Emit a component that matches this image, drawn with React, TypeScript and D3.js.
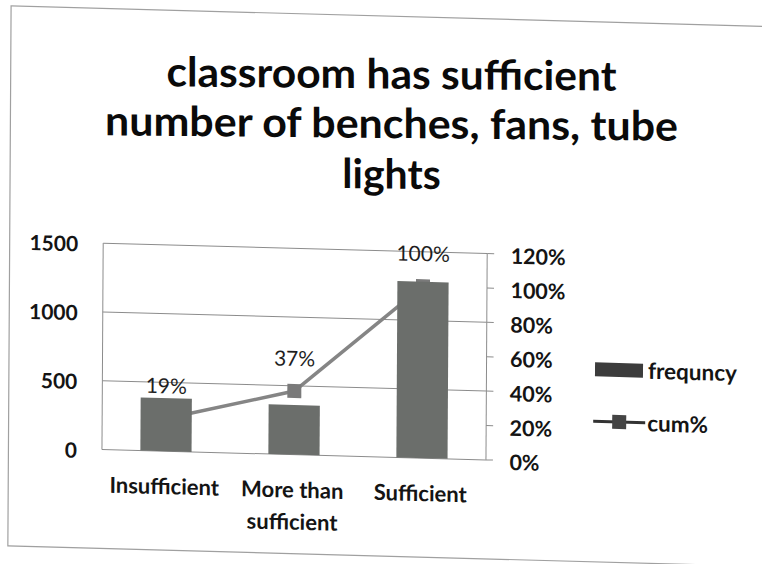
import React from "react";
import * as d3 from "d3";

const categories = ["Insufficient", "More than sufficient", "Sufficient"];
const frequency = [386, 361, 1283];
const cumPct = [0.19, 0.37, 1.0];
const leftTicks = [0, 500, 1000, 1500];
const rightTicks = [0, 0.2, 0.4, 0.6, 0.8, 1.0, 1.2];
const titleLines = ["classroom has sufficient", "number of benches, fans, tube", "lights"];
const seriesNames = ["frequncy", "cum%"];

const W = 762;
const H = 564;
const FONT = "Lato, 'Open Sans', sans-serif";

function wrap(label: string, maxChars: number): string[] {
  const words = label.split(" ");
  const lines: string[] = [];
  let cur = "";
  for (const w of words) {
    const next = cur ? cur + " " + w : w;
    if (next.length > maxChars && cur) {
      lines.push(cur);
      cur = w;
    } else cur = next;
  }
  if (cur) lines.push(cur);
  return lines;
}

export default function App() {
  const plot = { left: 103, right: 487, top: 250.7, bottom: 457 };
  const x = d3
    .scaleBand<string>()
    .domain(categories)
    .range([plot.left, plot.right])
    .paddingInner(0.6)
    .paddingOuter(0.3);
  const xc = (c: string) => (x(c) as number) + x.bandwidth() / 2;
  const yL = d3.scaleLinear().domain([0, 1500]).range([plot.bottom, plot.top]);
  const yR = d3.scaleLinear().domain([0, 1.2]).range([plot.bottom, plot.top]);
  const pctFmt = d3.format(".0%");

  const linePath = d3
    .line<number>()
    .x((_, i) => xc(categories[i]))
    .y((d) => yR(d))(cumPct) as string;

  const gridColor = "#8c8c8c";
  const textColor = "#141414";

  // perspective-like skew of the photographed page
  const m = 0.0272;
  const k = -0.006;
  const x0 = 381;
  const y0 = 282;
  const chartTf = `matrix(1, ${m}, ${k}, 1, ${-k * y0}, ${-m * x0})`;
  const mt = 0.0095;
  const titleTf = `matrix(1, ${mt}, 0, 1, 0, ${-mt * 391})`;

  const titleBaselines = [88.5, 138, 188.5];
  const titleWidths = [450, 573, 0];

  return (
    <svg
      width={W}
      height={H}
      viewBox={`0 0 ${W} ${H}`}
      style={{ position: "fixed", left: 0, top: 0, background: "#fff" }}
      fontFamily={FONT}
    >
      <rect x={0} y={0} width={W} height={H} fill="#ffffff" />
      <g transform={chartTf}>
        {/* frame */}
        <rect x={9.5} y={16} width={820} height={540} fill="none" stroke="#a0a0a0" strokeWidth={1.2} />

        {/* gridlines */}
        {leftTicks.map((t) => (
          <line
            key={"g" + t}
            x1={plot.left}
            x2={plot.right}
            y1={yL(t)}
            y2={yL(t)}
            stroke={gridColor}
            strokeWidth={1}
          />
        ))}
        {/* left axis line */}
        <line x1={plot.left} x2={plot.left} y1={plot.top} y2={plot.bottom} stroke={gridColor} strokeWidth={1} />

        {/* cum% line (drawn behind bars) */}
        <path d={linePath} fill="none" stroke="#858585" strokeWidth={3.5} />
        {cumPct.map((v, i) => (
          <rect
            key={"m" + i}
            x={xc(categories[i]) - 7}
            y={yR(v) - 7}
            width={14}
            height={14}
            fill="#7a7a7a"
          />
        ))}

        {/* bars */}
        {frequency.map((v, i) => (
          <rect
            key={"b" + i}
            x={x(categories[i]) as number}
            y={yL(v)}
            width={x.bandwidth()}
            height={plot.bottom - yL(v)}
            fill="#6b6e6b"
          />
        ))}

        {/* right axis */}
        <line x1={plot.right} x2={plot.right} y1={plot.top} y2={plot.bottom} stroke={gridColor} strokeWidth={1} />
        {rightTicks.map((t) => (
          <line
            key={"rt" + t}
            x1={plot.right}
            x2={plot.right + 7}
            y1={yR(t)}
            y2={yR(t)}
            stroke={gridColor}
            strokeWidth={1}
          />
        ))}

        {/* left tick labels */}
        {leftTicks.map((t) => (
          <text
            key={"lt" + t}
            x={78}
            y={yL(t) + 0.5}
            textAnchor="end"
            dominantBaseline="central"
            fontSize={21}
            fontWeight={700}
            fill={textColor}
          >
            {t}
          </text>
        ))}

        {/* right tick labels */}
        {rightTicks.map((t) => (
          <text
            key={"rl" + t}
            x={510.5}
            y={yR(t) + 1.5}
            textAnchor="start"
            dominantBaseline="central"
            fontSize={21.5}
            fontWeight={700}
            fill={textColor}
          >
            {pctFmt(t)}
          </text>
        ))}

        {/* category labels */}
        {categories.map((c) => (
          <text
            key={"c" + c}
            x={xc(c) - 1.5}
            y={500}
            textAnchor="middle"
            fontSize={22}
            fontWeight={700}
            fill={textColor}
          >
            {wrap(c, 12).map((ln, j) => (
              <tspan key={j} x={xc(c) - 1.5} dy={j === 0 ? 0 : 32}>
                {ln}
              </tspan>
            ))}
          </text>
        ))}

        {/* data labels */}
        {cumPct.map((v, i) => (
          <text
            key={"dl" + i}
            x={xc(categories[i])}
            y={yR(v) - 33.6}
            textAnchor="middle"
            dominantBaseline="central"
            fontSize={21}
            fill="#1e1e1e"
          >
            {pctFmt(v)}
          </text>
        ))}

        {/* legend */}
        <rect x={595.5} y={356.5} width={48} height={14} fill="#3c3c3c" />
        <text x={648.5} y={363} dominantBaseline="central" fontSize={22.5} fontWeight={700} fill={textColor}>
          {seriesNames[0]}
        </text>
        <line x1={594} x2={646} y1={415.5} y2={415.5} stroke="#333" strokeWidth={3} />
        <rect x={613} y={408.5} width={14} height={14} fill="#444" />
        <text x={648} y={415.5} dominantBaseline="central" fontSize={22.5} fontWeight={700} fill={textColor}>
          {seriesNames[1]}
        </text>
      </g>

      {/* title */}
      <g transform={titleTf}>
        {titleLines.map((ln, i) => (
          <text
            key={"t" + i}
            x={391.5}
            y={titleBaselines[i]}
            textAnchor="middle"
            fontSize={41}
            fontWeight={700}
            fill="#0a0a0a"
            {...(titleWidths[i] ? { textLength: titleWidths[i], lengthAdjust: "spacingAndGlyphs" } : {})}
          >
            {ln}
          </text>
        ))}
      </g>
    </svg>
  );
}
